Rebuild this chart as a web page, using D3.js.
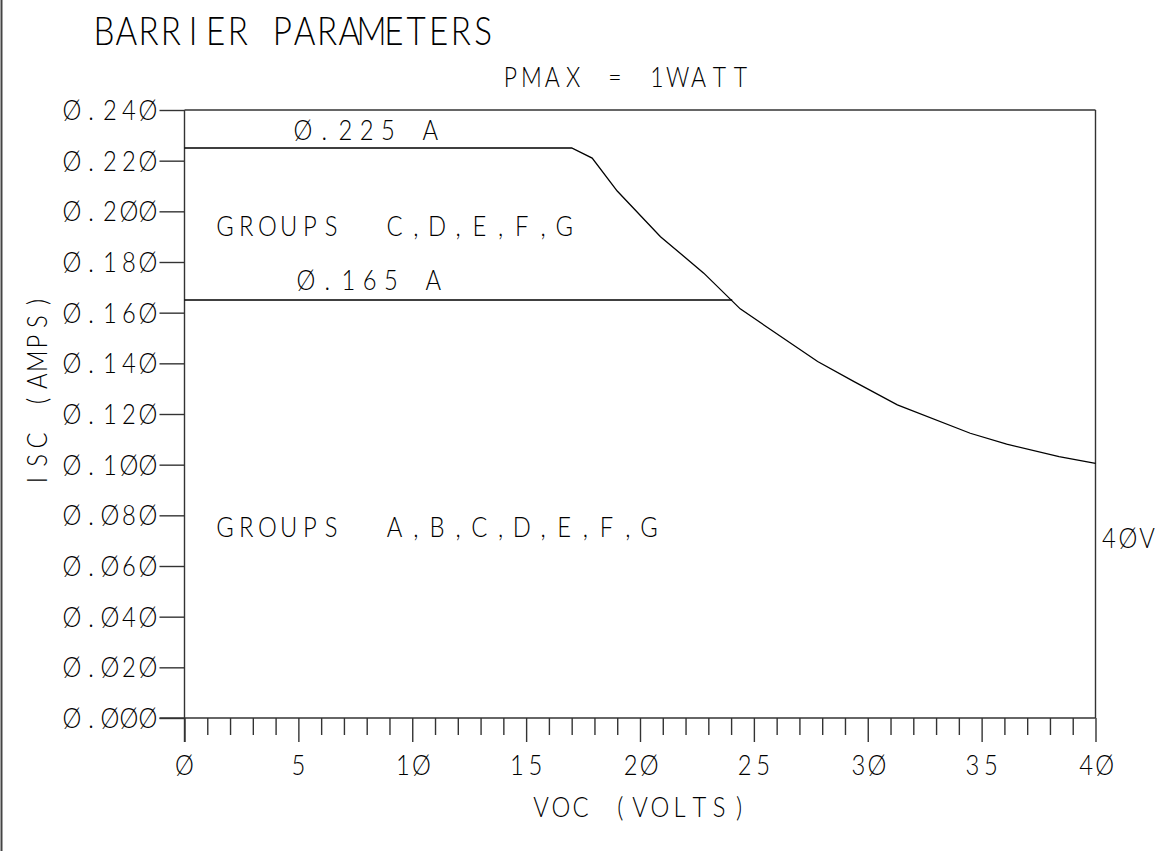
<!DOCTYPE html>
<html>
<head>
<meta charset="utf-8">
<script src="https://cdn.jsdelivr.net/npm/d3@7"></script>
<style>
  html, body { margin: 0; padding: 0; background: #fff; }
  svg { display: block; }
  text { white-space: pre; }
</style>
</head>
<body>
<svg id="chart" width="1175" height="851"></svg>
<script>
// ---- data ----
const vocVolts = [0, 17, 17.9, 19, 20.9, 22.8, 24.4, 27.8, 29.4, 31.3, 34.5, 36.1, 38.4, 40];
const iscAmps  = [0.225, 0.225, 0.221, 0.208, 0.190, 0.1756, 0.1615, 0.1407, 0.1328, 0.1236, 0.1124, 0.1081, 0.1032, 0.1005];
const lowerLimitVolts = [0, 24.05];
const lowerLimitAmps  = [0.165, 0.165];
const yTickValues = [0, 0.02, 0.04, 0.06, 0.08, 0.10, 0.12, 0.14, 0.16, 0.18, 0.20, 0.22, 0.24];
const yTickLabels = ["Ø.ØØØ","Ø.Ø2Ø","Ø.Ø4Ø","Ø.Ø6Ø","Ø.Ø8Ø","Ø.1ØØ","Ø.12Ø","Ø.14Ø","Ø.16Ø","Ø.18Ø","Ø.2ØØ","Ø.22Ø","Ø.24Ø"];
const xMajorValues = [0, 5, 10, 15, 20, 25, 30, 35, 40];
const xMajorLabels = ["Ø","5","1Ø","15","2Ø","25","3Ø","35","4Ø"];
const xMinorValues = [1,2,3,4,6,7,8,9,11,12,13,14,16,17,18,19,21,22,23,24,26,27,28,29,31,32,33,34,36,37,38,39];
const titleText = "BARRIER PARAMETERS";
const subtitleText = "PMAX = 1WATT";
const xAxisTitle = "VOC (VOLTS)";
const yAxisTitle = "ISC (AMPS)";
const upperLabel = "Ø.225 A";
const lowerLabel = "Ø.165 A";
const upperGroups = "GROUPS  C,D,E,F,G";
const lowerGroups = "GROUPS  A,B,C,D,E,F,G";
const endLabel = "4ØV";

// ---- layout ----
const svg = d3.select("#chart");
const plot = { left: 184.5, right: 1095.5, top: 110, bottom: 718 };
const x = d3.scaleLinear().domain([0, 40]).range([plot.left, plot.right]);
const y = d3.scaleLinear().domain([0, 0.24]).range([plot.bottom, plot.top]);

const INK = "#000";
const FONT = "Lato, 'Open Sans', 'DejaVu Sans', sans-serif";
const SX = 0.85;

// monospaced-style text: one <text>, each glyph centred in its own cell
function mono(parent, str, o) {
  const adv = o.adv, n = str.length;
  let c0;
  if (o.anchor === "middle") c0 = -(n - 1) * adv / 2;
  else if (o.anchor === "end") c0 = -(n - 1) * adv;
  else c0 = 0;
  const xs = d3.range(n).map(i => ((c0 + i * adv) / SX).toFixed(2)).join(" ");
  const rot = o.rotate ? ` rotate(${o.rotate})` : "";
  parent.append("text")
    .attr("transform", `translate(${o.x},${o.y})${rot} scale(${SX},1)`)
    .attr("x", xs)
    .attr("y", 0)
    .attr("text-anchor", "middle")
    .attr("font-family", FONT)
    .attr("font-weight", 300)
    .attr("font-size", o.size)
    .attr("fill", INK)
    .text(str);
}

// page border on the left
svg.append("line").attr("x1", 1.5).attr("x2", 1.5).attr("y1", 0).attr("y2", 851)
  .attr("stroke", "#444").attr("stroke-width", 2);

// frame
const frame = svg.append("g").attr("stroke", "#333").attr("stroke-width", 1.4).attr("fill", "none");
frame.append("line").attr("x1", x(0)).attr("x2", x(40)).attr("y1", y(0.24)).attr("y2", y(0.24));
frame.append("line").attr("x1", x(40)).attr("x2", x(40)).attr("y1", y(0.24)).attr("y2", y(0));

// y axis
const yAxis = d3.axisLeft(y).tickValues(yTickValues).tickSize(25).tickFormat(() => "");
const gy = svg.append("g").attr("transform", `translate(${plot.left},0)`).call(yAxis);
gy.select(".domain").remove();
svg.append("line").attr("x1", plot.left).attr("x2", plot.left)
  .attr("y1", y(0.24)).attr("y2", plot.bottom + 24)
  .attr("stroke", "#333").attr("stroke-width", 1.4);

// x axis
const xMinor = d3.axisBottom(x).tickValues(xMinorValues).tickSize(17).tickFormat(() => "");
const gxm = svg.append("g").attr("transform", `translate(0,${plot.bottom})`).call(xMinor);
gxm.select(".domain").remove();
const xMajor = d3.axisBottom(x).tickValues(xMajorValues).tickSize(24).tickFormat(() => "");
const gxM = svg.append("g").attr("transform", `translate(0,${plot.bottom})`).call(xMajor);
gxM.select(".domain").remove();
svg.selectAll(".tick line").attr("stroke", "#333").attr("stroke-width", 1.4);
svg.append("line").attr("x1", plot.left - 25).attr("x2", x(40))
  .attr("y1", plot.bottom).attr("y2", plot.bottom)
  .attr("stroke", "#333").attr("stroke-width", 1.4);

// tick labels
const txt = svg.append("g");
yTickValues.forEach((v, i) => {
  mono(txt, yTickLabels[i], { x: 148, y: y(v) + 10, adv: 19, size: 28, anchor: "end" });
});
xMajorValues.forEach((v, i) => {
  mono(txt, xMajorLabels[i], { x: x(v), y: 775, adv: 18.5, size: 28, anchor: "middle" });
});

// curves
const line = d3.line().x(d => x(d[0])).y(d => y(d[1]));
svg.append("path").datum(vocVolts.map((v, i) => [v, iscAmps[i]]))
  .attr("d", line).attr("fill", "none").attr("stroke", INK).attr("stroke-width", 1.3);
svg.append("path").datum(lowerLimitVolts.map((v, i) => [v, lowerLimitAmps[i]]))
  .attr("d", line).attr("fill", "none").attr("stroke", INK).attr("stroke-width", 1.3);

// texts
mono(txt, titleText, { x: 104, y: 45, adv: 22.3, size: 39 });
mono(txt, subtitleText, { x: 510.5, y: 87, adv: 20.9, size: 27 });
mono(txt, upperLabel, { x: 303, y: 140, adv: 21.2, size: 28 });
mono(txt, upperGroups, { x: 225, y: 236, adv: 21.2, size: 28 });
mono(txt, lowerLabel, { x: 306, y: 290, adv: 21.2, size: 28 });
mono(txt, lowerGroups, { x: 225, y: 537, adv: 21.2, size: 28 });
mono(txt, endLabel, { x: 1109, y: 548, adv: 19, size: 28 });
mono(txt, xAxisTitle, { x: 640, y: 817, adv: 19.8, size: 28, anchor: "middle" });
mono(txt, yAxisTitle, { x: 47, y: 391, adv: 19.8, size: 28, anchor: "middle", rotate: -90 });
</script>
</body>
</html>
